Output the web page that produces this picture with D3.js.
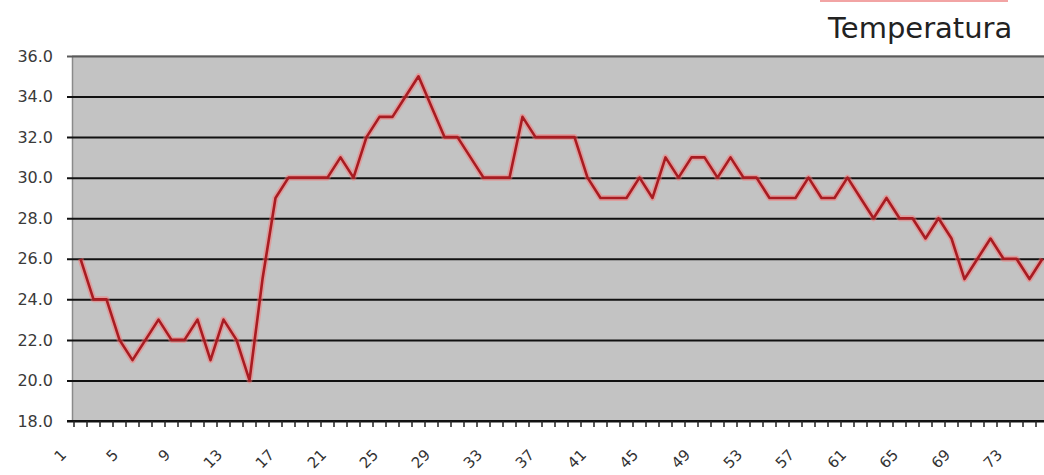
<!DOCTYPE html>
<html>
<head>
<meta charset="utf-8">
<script src="https://cdn.jsdelivr.net/npm/d3@7"></script>
<style>
  body { margin: 0; background: #fff; }
  svg { display: block; }
</style>
</head>
<body>
<svg id="chart" width="1044" height="475"></svg>
<script>
// Reading index (x categories)
const categories = [
  1, 2, 3, 4, 5, 6, 7, 8, 9, 10, 11, 12, 13, 14, 15, 16, 17, 18, 19, 20,
  21, 22, 23, 24, 25, 26, 27, 28, 29, 30, 31, 32, 33, 34, 35, 36, 37, 38, 39, 40,
  41, 42, 43, 44, 45, 46, 47, 48, 49, 50, 51, 52, 53, 54, 55, 56, 57, 58, 59, 60,
  61, 62, 63, 64, 65, 66, 67, 68, 69, 70, 71, 72, 73, 74, 75
];

// Temperature readings
const temperatura = [
  26, 24, 24, 22, 21, 22, 23, 22, 22, 23, 21, 23, 22, 20, 25, 29, 30, 30, 30, 30,
  31, 30, 32, 33, 33, 34, 35, 33.5, 32, 32, 31, 30, 30, 30, 33, 32, 32, 32, 32, 30,
  29, 29, 29, 30, 29, 31, 30, 31, 31, 30, 31, 30, 30, 29, 29, 29, 30, 29, 29, 30,
  29, 28, 29, 28, 28, 27, 28, 27, 25, 26, 27, 26, 26, 25, 26
];

const yTicks = [18, 20, 22, 24, 26, 28, 30, 32, 34, 36];
const xTickLabels = [1, 5, 9, 13, 17, 21, 25, 29, 33, 37, 41, 45, 49, 53, 57, 61, 65, 69, 73];

const W = 1044, H = 475;
const plotLeft = 72, plotTop = 56, plotBottom = 421;
const step = 13;

const svg = d3.select("#chart");

const x = d3.scaleBand()
  .domain(categories)
  .range([plotLeft + 2, plotLeft + 2 + categories.length * step])
  .paddingInner(0).paddingOuter(0);

const y = d3.scaleLinear().domain([18, 36]).range([plotBottom, plotTop]);

// Plot area background
svg.append("rect")
  .attr("x", plotLeft).attr("y", y(36) - 1)
  .attr("width", W - plotLeft).attr("height", plotBottom - y(36) + 1)
  .attr("fill", "#c3c3c3");

// Left border of the plot area
svg.append("line")
  .attr("x1", plotLeft + 0.5).attr("x2", plotLeft + 0.5)
  .attr("y1", y(36)).attr("y2", plotBottom)
  .attr("stroke", "#8a8a8a").attr("stroke-width", 1.5);

// Y axis with full-width gridlines
const yAxis = d3.axisLeft(y)
  .tickValues(yTicks)
  .tickFormat(d3.format(".1f"))
  .tickSizeInner(-(W - 67))
  .tickSizeOuter(0)
  .tickPadding(14);

const gy = svg.append("g")
  .attr("transform", "translate(67,0)")
  .call(yAxis);
gy.select(".domain").remove();
gy.selectAll(".tick line")
  .attr("stroke", d => d === 36 ? "#5a5a5a" : "#111")
  .attr("stroke-width", 2);
gy.selectAll(".tick text")
  .attr("font-family", "DejaVu Sans, Verdana, sans-serif")
  .attr("font-size", 16)
  .attr("fill", "#3a3a3a");

// Bottom axis line
svg.append("line")
  .attr("x1", 67).attr("x2", W)
  .attr("y1", plotBottom).attr("y2", plotBottom)
  .attr("stroke", "#111").attr("stroke-width", 2);

// Category boundary tick marks
const boundaries = categories.map(c => x(c)).concat([x(categories[categories.length - 1]) + x.bandwidth()]);
svg.append("g").selectAll("line").data(boundaries).join("line")
  .attr("x1", d => d).attr("x2", d => d)
  .attr("y1", plotBottom).attr("y2", plotBottom + 6)
  .attr("stroke", "#222").attr("stroke-width", 1.5);

// Angled category labels
const xAxis = d3.axisBottom(x)
  .tickValues(xTickLabels)
  .tickSize(0)
  .tickPadding(0);
const gx = svg.append("g")
  .attr("transform", `translate(0,${plotBottom})`)
  .call(xAxis);
gx.select(".domain").remove();
gx.selectAll(".tick text")
  .attr("font-family", "DejaVu Sans, Verdana, sans-serif")
  .attr("font-size", 15)
  .attr("fill", "#333")
  .attr("text-anchor", "end")
  .attr("dy", "0.35em")
  .attr("transform", "translate(-17,31) rotate(-45)");

// Temperature line
const line = d3.line()
  .x((d, i) => x(categories[i]) + x.bandwidth() / 2)
  .y(d => y(d));

svg.append("path")
  .datum(temperatura)
  .attr("d", line)
  .attr("fill", "none")
  .attr("stroke", "#ff6f6f")
  .attr("stroke-opacity", 0.45)
  .attr("stroke-width", 6)
  .attr("stroke-linejoin", "round");

svg.append("path")
  .datum(temperatura)
  .attr("d", line)
  .attr("fill", "none")
  .attr("stroke", "#a81c22")
  .attr("stroke-width", 2.6)
  .attr("stroke-linejoin", "round");

// Legend
svg.append("line")
  .attr("x1", 820).attr("x2", 1008)
  .attr("y1", 1).attr("y2", 1)
  .attr("stroke", "#f2a4a4").attr("stroke-width", 2);

svg.append("text")
  .attr("x", 828).attr("y", 38)
  .attr("font-family", "DejaVu Sans, Verdana, sans-serif")
  .attr("font-size", 29)
  .attr("fill", "#222")
  .text("Temperatura");
</script>
</body>
</html>
